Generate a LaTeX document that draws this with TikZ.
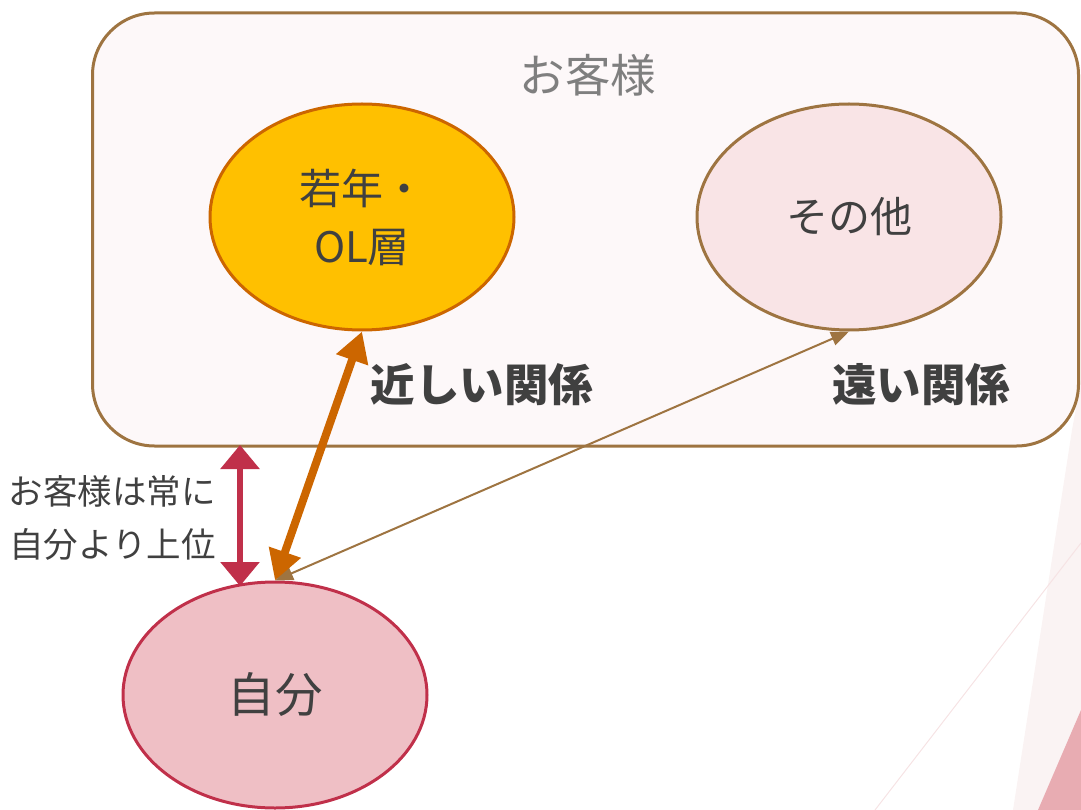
\documentclass[tikz,border=0pt]{standalone}
\usepackage{fontspec}
\setmainfont{Noto Sans CJK JP}
\usetikzlibrary{arrows.meta,shapes.geometric}
\definecolor{boxfill}{HTML}{FDF8F9}
\definecolor{brownline}{HTML}{9E7441}
\definecolor{gold}{HTML}{FFC000}
\definecolor{orangeline}{HTML}{CC6600}
\definecolor{pinkfill}{HTML}{F9E4E6}
\definecolor{selffill}{HTML}{EFBFC5}
\definecolor{redline}{HTML}{C0304A}
\definecolor{txt}{HTML}{404040}
\definecolor{graytxt}{HTML}{7F7F7F}
\definecolor{bandpink}{HTML}{FAF3F3}
\definecolor{tripink}{HTML}{E8ACB2}
\definecolor{linepink}{HTML}{F6E3E4}
\tikzset{
  oval/.style={ellipse, minimum width=304pt, minimum height=226pt, line width=3pt, inner sep=0pt, align=center, text=txt, font=\fontsize{42}{58}\selectfont},
  bigtxt/.style={text=txt, font=\fontsize{44.5}{50}\selectfont\bfseries, inner sep=0pt},
}
\begin{document}
\begin{tikzpicture}[x=1pt,y=-1pt]
\useasboundingbox (0,0) rectangle (1081,810);
% background decoration
\fill[bandpink] (1072,430) -- (1081,380) -- (1081,810) -- (1013,810) -- cycle;
\draw[linepink, line width=1pt] (1081,543) -- (875,810);
\fill[tripink] (1081,710) -- (1081,810) -- (1038,810) -- cycle;
% customer box
\node[draw=brownline, fill=boxfill, line width=3pt, rounded corners=62pt, minimum width=986pt, minimum height=433pt, inner sep=0pt] (box) at (585.5,229.5) {};
\node[text=graytxt, font=\fontsize{45.5}{50}\selectfont, inner sep=0pt] (cust) at (588,75) {お客様};
% ellipses
\node[oval, draw=orangeline, fill=gold] (wakai) at (362,217) {若年・\\OL層};
\node[oval, draw=brownline, fill=pinkfill] (sonota) at (849,217) {その他};
\node[oval, draw=redline, fill=selffill, font=\fontsize{47.5}{50}\selectfont] (jibun) at (275,695) {自分};
% labels
\node[bigtxt] (near) at (482,385) {近しい関係};
\node[bigtxt] (far) at (921,385) {遠い関係};
\node[text=txt, font=\fontsize{34.5}{53}\selectfont, align=right, anchor=east, inner sep=0pt] (above) at (216,518) {お客様は常に\\自分より上位};
% arrows
\coordinate (ra) at (240,445);
\coordinate (rb) at (240,586);
\draw[redline, line width=6pt, {Triangle[length=24pt,width=38pt]}-{Triangle[length=24pt,width=38pt]}] (ra) -- (rb);
\draw[brownline, line width=2pt, {Triangle[length=18pt,width=14pt]}-{Triangle[length=18pt,width=14pt]}] (sonota.south) -- (jibun.north);
\draw[orangeline, line width=8pt, {Triangle[length=30pt,width=32pt]}-{Triangle[length=30pt,width=32pt]}] (wakai.south) -- (jibun.north);
\end{tikzpicture}
\end{document}
